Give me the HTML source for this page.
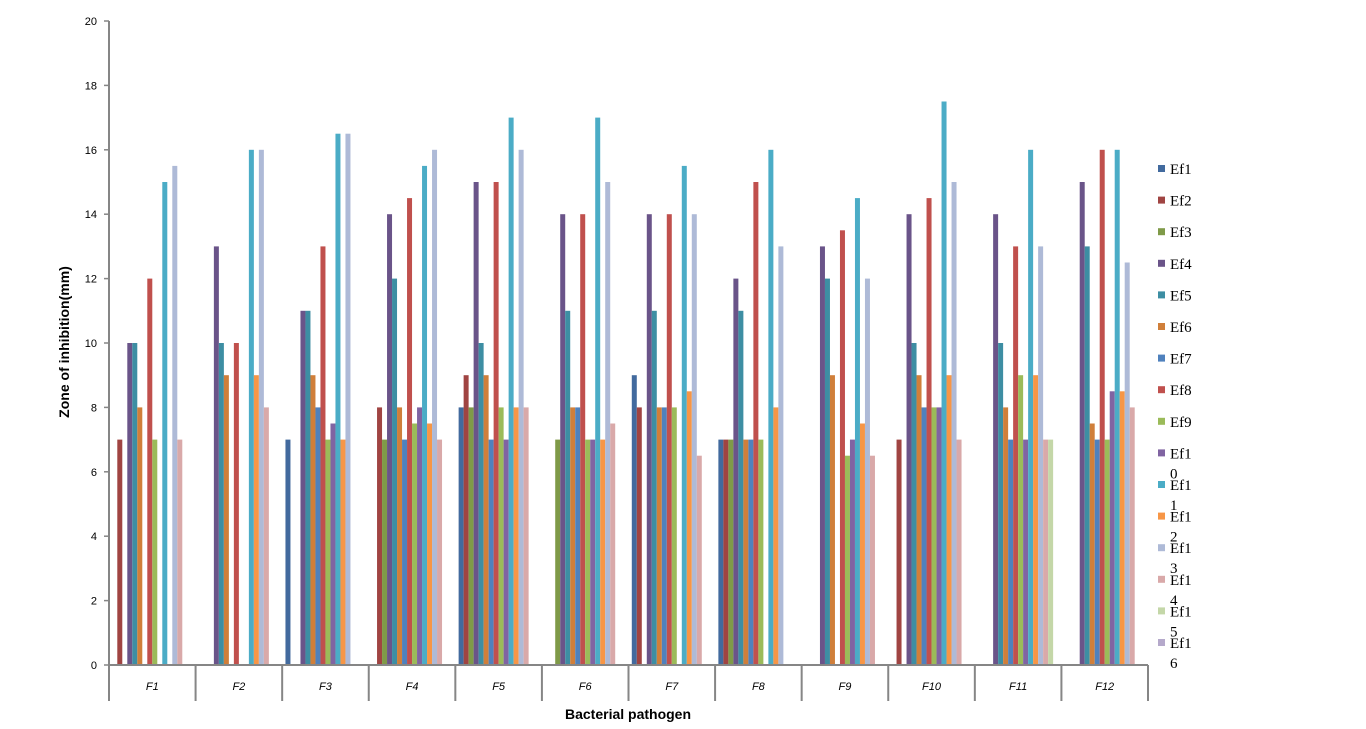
<!DOCTYPE html>
<html><head><meta charset="utf-8"><style>
html,body{margin:0;padding:0;background:#fff;}
svg{display:block;}
</style></head><body>
<svg id="chart" width="1366" height="729" xmlns="http://www.w3.org/2000/svg">
<g id="plot"></g>
<g id="axes"></g>
<g id="legend"></g>
<text transform="translate(69,342) rotate(-90)" text-anchor="middle" font-family="Liberation Sans, sans-serif" font-size="14" font-weight="bold">Zone of inhibition(mm)</text>
<text x="628" y="719" text-anchor="middle" font-family="Liberation Sans, sans-serif" font-size="14" font-weight="bold">Bacterial pathogen</text>
</svg>
<script>
const categories = ["F1","F2","F3","F4","F5","F6","F7","F8","F9","F10","F11","F12"];
const seriesNames = ["Ef1","Ef2","Ef3","Ef4","Ef5","Ef6","Ef7","Ef8","Ef9","Ef10","Ef11","Ef12","Ef13","Ef14","Ef15","Ef16"];
const seriesColors = ["#426a9e","#a04442","#7f9a48","#6a5489","#3d8ea3","#d07f3a","#4f81bd","#c0504d","#9bbb59","#8064a2","#4bacc6","#f79646","#aebad7","#d9a9a9","#c4d7a8","#b5a9cb"];
const ef1  = [0,0,7,0,8,0,9,7,0,0,0,0];
const ef2  = [7,0,0,8,9,0,8,7,0,7,0,0];
const ef3  = [0,0,0,7,8,7,0,7,0,0,0,0];
const ef4  = [10,13,11,14,15,14,14,12,13,14,14,15];
const ef5  = [10,10,11,12,10,11,11,11,12,10,10,13];
const ef6  = [8,9,9,8,9,8,8,7,9,9,8,7.5];
const ef7  = [0,0,8,7,7,8,8,7,0,8,7,7];
const ef8  = [12,10,13,14.5,15,14,14,15,13.5,14.5,13,16];
const ef9  = [7,0,7,7.5,8,7,8,7,6.5,8,9,7];
const ef10 = [0,0,7.5,8,7,7,0,0,7,8,7,8.5];
const ef11 = [15,16,16.5,15.5,17,17,15.5,16,14.5,17.5,16,16];
const ef12 = [0,9,7,7.5,8,7,8.5,8,7.5,9,9,8.5];
const ef13 = [15.5,16,16.5,16,16,15,14,13,12,15,13,12.5];
const ef14 = [7,8,0,7,8,7.5,6.5,0,6.5,7,7,8];
const ef15 = [0,0,0,0,0,0,0,0,0,0,7,0];
const ef16 = [0,0,0,0,0,0,0,0,0,0,0,0];
const seriesValues = [ef1,ef2,ef3,ef4,ef5,ef6,ef7,ef8,ef9,ef10,ef11,ef12,ef13,ef14,ef15,ef16];
const yTicks = [0,2,4,6,8,10,12,14,16,18,20];

const NS="http://www.w3.org/2000/svg";
const X0=109, X1=1148, Y0=665, Y1=21, YMAX=20;
const groupW=(X1-X0)/categories.length;
const barW=5;
function y(v){return Y0-(v/YMAX)*(Y0-Y1);}
function xBar(ci,si){return X0+ci*groupW+(groupW-barW*seriesNames.length)/2+si*barW;}
function mk(tag,attrs,parent){const e=document.createElementNS(NS,tag);for(const k in attrs)e.setAttribute(k,attrs[k]);parent.appendChild(e);return e;}
const plot=document.getElementById('plot'), axes=document.getElementById('axes'), legend=document.getElementById('legend');

seriesValues.forEach((vals,si)=>{
  vals.forEach((v,ci)=>{
    if(v<=0) return;
    const r=mk('rect',{x:xBar(ci,si),y:y(v),width:barW,height:Y0-y(v),fill:seriesColors[si]},plot);
    
    
  });
});

let l=mk('line',{x1:X0,y1:Y1,x2:X0,y2:Y0,stroke:'#868686','stroke-width':2},axes);


l=mk('line',{x1:X0-1,y1:Y0,x2:X1,y2:Y0,stroke:'#868686','stroke-width':2},axes);


yTicks.forEach(t=>{
  const tk=mk('line',{x1:X0-5,y1:y(t),x2:X0,y2:y(t),stroke:'#868686','stroke-width':1.5},axes);
  
  
  const tx=mk('text',{x:97,y:y(t)+4,'text-anchor':'end','font-family':'Liberation Sans, sans-serif','font-size':11},axes);
  
  
  tx.textContent=t;
});
for(let i=0;i<=categories.length;i++){
  const xx=X0+i*groupW;
  const d=mk('line',{x1:xx,y1:Y0,x2:xx,y2:701,stroke:'#868686','stroke-width':2},axes);
  
  
}
categories.forEach((c,ci)=>{
  const tx=mk('text',{x:X0+ci*groupW+groupW/2,y:690,'text-anchor':'middle','font-family':'Liberation Sans, sans-serif','font-size':11,'font-style':'italic'},axes);
  
  
  tx.textContent=c;
});
seriesNames.forEach((n,si)=>{
  const cy=169+si*31.6;
  const g=mk('g',{},legend);
  
  
  mk('rect',{x:1158,y:cy-4,width:7,height:7,fill:seriesColors[si]},g);
  const t=mk('text',{x:1170,y:cy+5,'font-family':'Liberation Serif, serif','font-size':15},g);
  if(n.length>3){
    t.textContent=n.slice(0,3);
    const t2=mk('text',{x:1170,y:cy+25,'font-family':'Liberation Serif, serif','font-size':15},g);
    t2.textContent=n.slice(3);
  } else t.textContent=n;
});
</script>
</body></html>
